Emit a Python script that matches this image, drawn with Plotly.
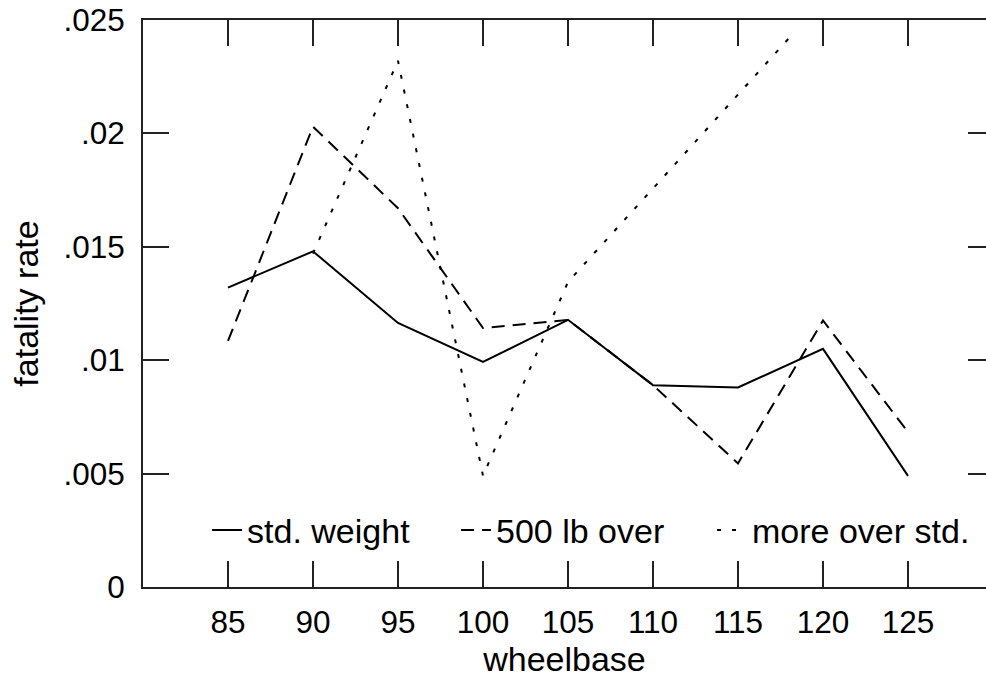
import plotly.graph_objects as go

wheelbase = [85, 90, 95, 100, 105, 110, 115, 120, 125]
std_weight = [0.0132, 0.0148, 0.01164, 0.00992, 0.01178, 0.0089, 0.0088, 0.0105, 0.0049]
over_500 = [0.01085, 0.0203, 0.0167, 0.01142, 0.01178, 0.0089, 0.00545, 0.01175, 0.00683]
more_x = [90, 95, 100, 105, 110, 115, 118]
more_over = [0.0147, 0.0232, 0.0049, 0.01345, 0.01757, 0.02169, 0.0242]

y_tickvals = [0, 0.005, 0.01, 0.015, 0.02, 0.025]
y_ticktext = ["0", ".005", ".01", ".015", ".02", ".025"]
x_tickvals = [85, 90, 95, 100, 105, 110, 115, 120, 125]

FONT = "Liberation Sans, Arial, sans-serif"
AX = "#222222"

fig = go.Figure()
fig.add_trace(go.Scatter(x=wheelbase, y=std_weight, mode="lines", name="std. weight",
                         line=dict(color="black", width=2), legend="legend"))
fig.add_trace(go.Scatter(x=wheelbase, y=over_500, mode="lines", name="500 lb over",
                         line=dict(color="black", width=2, dash="13px,8px"), legend="legend2"))
fig.add_trace(go.Scatter(x=more_x, y=more_over, mode="lines", name="more over std.",
                         line=dict(color="black", width=2, dash="4px,11px"), legend="legend3"))

def leg(x):
    return dict(orientation="h", x=x, xanchor="left", y=0.10, yanchor="middle",
                font=dict(size=34, family=FONT), bgcolor="rgba(0,0,0,0)",
                itemclick=False, itemdoubleclick=False)

fig.update_layout(
    width=986, height=681,
    margin=dict(l=143, r=0, t=20, b=94, autoexpand=False),
    paper_bgcolor="white", plot_bgcolor="white",
    font=dict(family=FONT, color="black", size=31.5),
    showlegend=True,
    legend=leg(0.076),
    legend2=leg(0.3713),
    legend3=leg(0.6750),
    xaxis=dict(range=[80, 80 + 843 / 17], tickvals=x_tickvals, ticks="inside", ticklen=26,
               tickwidth=2, tickcolor=AX, showline=True, linewidth=2, linecolor=AX,
               mirror="ticks", showgrid=False, zeroline=False,
               ticklabelstandoff=6,
               title=dict(text="wheelbase", font=dict(size=34), standoff=4)),
    yaxis=dict(range=[0, 0.025], tickvals=y_tickvals, ticktext=y_ticktext, ticks="inside",
               ticklen=26, tickwidth=2, tickcolor=AX, showline=True, linewidth=2,
               linecolor=AX, mirror=False, showgrid=False, zeroline=False,
               ticklabelstandoff=10,
               title=dict(text="fatality rate", font=dict(size=34), standoff=14)),
    yaxis2=dict(range=[0, 0.025], tickvals=y_tickvals, overlaying="y", side="right",
                anchor="x", ticks="inside", ticklen=18, tickwidth=2, tickcolor=AX,
                showticklabels=False, showline=False, showgrid=False, zeroline=False),
)
fig.add_trace(go.Scatter(x=[None], y=[None], yaxis="y2", showlegend=False,
                         hoverinfo="skip", mode="lines"))

fig.write_html(
    "out.html",
    config={"displayModeBar": False},
    post_script="document.body.style.margin='0';document.body.style.overflow='hidden';",
)
